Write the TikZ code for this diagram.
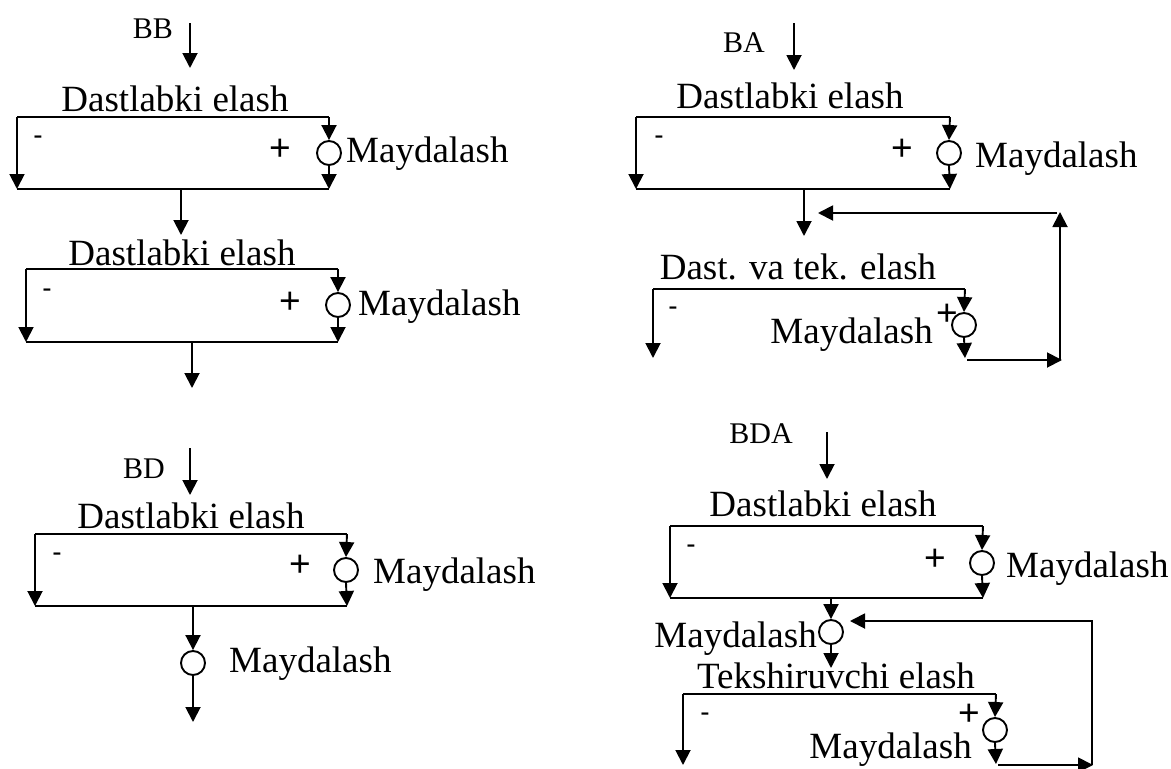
\documentclass[tikz,border=0pt]{standalone}
\usepackage{fontspec}
\setmainfont{Liberation Serif}
\newfontfamily\arialf{Liberation Sans}
\usetikzlibrary{arrows.meta}
\begin{document}
\begin{tikzpicture}[x=1pt,y=-1pt,
 ln/.style={line width=1.9pt},
 arr/.style={line width=1.9pt,-{Triangle[width=15pt,length=15pt]}},
 crush/.style={circle,draw,line width=1.9pt,minimum size=24pt,inner sep=0pt},
 txt/.style={font=\fontsize{37}{40}\selectfont,inner sep=0pt},
 tag/.style={font=\fontsize{30}{32}\selectfont,inner sep=0pt},
 plus/.style={font=\arialf\fontsize{37}{40}\selectfont,inner sep=0pt,anchor=base},
 minus/.style={font=\arialf\fontsize{28}{30}\selectfont,inner sep=0pt,anchor=base}]
\useasboundingbox (0,0) rectangle (1171,769);

% ---------- BB ----------
\node[tag,anchor=base east] (bbT) at (173,38) {BB};
\coordinate (bbS) at (190,23); \coordinate (bbE) at (190,68);
\draw[arr] (bbS) -- (bbE);
\node[txt,anchor=base] (t1) at (175,111) {Dastlabki elash};
\coordinate (a1) at (17,117); \coordinate (b1) at (329,117);
\coordinate (c1) at (17,189); \coordinate (e1) at (329,189);
\node[crush] (m1) at (329,153) {};
\draw[ln] (a1) -- (b1);
\draw[ln] (c1) -- (e1);
\draw[arr] (a1) -- (c1);
\draw[arr] (b1) -- (m1.north);
\draw[arr] (m1.south) -- (e1);
\node[minus] (n1) at (38,144) {-};
\node[plus] (p1) at (280,160) {+};
\node[txt,anchor=base west] (l1) at (346,162) {Maydalash};
\coordinate (f1) at (181,189); \coordinate (g1) at (181,235);
\draw[arr] (f1) -- (g1);

\node[txt,anchor=base] (t2) at (182,265) {Dastlabki elash};
\coordinate (a2) at (26,269); \coordinate (b2) at (338,269);
\coordinate (c2) at (26,342); \coordinate (e2) at (338,342);
\node[crush] (m2) at (338,305) {};
\draw[ln] (a2) -- (b2);
\draw[ln] (c2) -- (e2);
\draw[arr] (a2) -- (c2);
\draw[arr] (b2) -- (m2.north);
\draw[arr] (m2.south) -- (e2);
\node[minus] (n2) at (47,297) {-};
\node[plus] (p2) at (290,313) {+};
\node[txt,anchor=base west] (l2) at (358,315) {Maydalash};
\coordinate (f2) at (192,342); \coordinate (g2) at (192,388);
\draw[arr] (f2) -- (g2);

% ---------- BA ----------
\node[tag,anchor=base east] (baT) at (765,52) {BA};
\coordinate (baS) at (794,23); \coordinate (baE) at (794,70);
\draw[arr] (baS) -- (baE);
\node[txt,anchor=base] (t3) at (790,108) {Dastlabki elash};
\coordinate (a3) at (636,117); \coordinate (b3) at (950,117);
\coordinate (c3) at (636,189); \coordinate (e3) at (950,189);
\node[crush] (m3) at (949,153) {};
\draw[ln] (a3) -- (b3);
\draw[ln] (c3) -- (e3);
\draw[arr] (a3) -- (c3);
\draw[arr] (b3) -- (m3.north);
\draw[arr] (m3.south) -- (e3);
\node[minus] (n3) at (659,144) {-};
\node[plus] (p3) at (902,160) {+};
\node[txt,anchor=base west] (l3) at (975,167) {Maydalash};
\coordinate (f3) at (804,189); \coordinate (g3) at (804,236);
\draw[arr] (f3) -- (g3);

\node[txt,anchor=base] (t4) at (798,279) {Dast. va tek. elash};
\coordinate (a4) at (653,289); \coordinate (b4) at (965,289);
\coordinate (c4) at (653,358); \coordinate (e4) at (965,358);
\node[crush] (m4) at (964,325) {};
\draw[ln] (a4) -- (b4);
\draw[arr] (a4) -- (c4);
\draw[arr] (b4) -- (m4.north);
\draw[arr] (m4.south) -- (e4);
\node[minus] (n4) at (673,315) {-};
\node[plus] (p4) at (947,325) {+};
\node[txt,anchor=base east] (l4) at (933,343) {Maydalash};
\coordinate (r1) at (967,360); \coordinate (r2) at (1062,360);
\coordinate (r3) at (1060,360); \coordinate (r4) at (1060,212);
\coordinate (r5) at (1057,213); \coordinate (r6) at (818,213);
\draw[arr] (r1) -- (r2);
\draw[arr] (r3) -- (r4);
\draw[arr] (r5) -- (r6);

% ---------- BD ----------
\node[tag,anchor=base east] (bdT) at (165,478) {BD};
\coordinate (bdS) at (190,448); \coordinate (bdE) at (190,495);
\draw[arr] (bdS) -- (bdE);
\node[txt,anchor=base] (t5) at (191,528) {Dastlabki elash};
\coordinate (a5) at (35,534); \coordinate (b5) at (347,534);
\coordinate (c5) at (35,606); \coordinate (e5) at (347,606);
\node[crush] (m5) at (346,570) {};
\draw[ln] (a5) -- (b5);
\draw[ln] (c5) -- (e5);
\draw[arr] (a5) -- (c5);
\draw[arr] (b5) -- (m5.north);
\draw[arr] (m5.south) -- (e5);
\node[minus] (n5) at (57,561) {-};
\node[plus] (p5) at (300,576) {+};
\node[txt,anchor=base west] (l5) at (373,583) {Maydalash};
\coordinate (f5) at (193,606);
\node[crush] (m6) at (193,663) {};
\coordinate (g6) at (193,722);
\draw[arr] (f5) -- (m6.north);
\draw[arr] (m6.south) -- (g6);
\node[txt,anchor=base west] (l6) at (229,672) {Maydalash};

% ---------- BDA ----------
\node[tag,anchor=base east] (bdaT) at (793,443) {BDA};
\coordinate (bdaS) at (827,432); \coordinate (bdaE) at (827,479);
\draw[arr] (bdaS) -- (bdaE);
\node[txt,anchor=base] (t7) at (823,516) {Dastlabki elash};
\coordinate (a7) at (670,526); \coordinate (b7) at (983,526);
\coordinate (c7) at (670,598); \coordinate (e7) at (983,598);
\node[crush] (m7) at (982,563) {};
\draw[ln] (a7) -- (b7);
\draw[ln] (c7) -- (e7);
\draw[arr] (a7) -- (c7);
\draw[arr] (b7) -- (m7.north);
\draw[arr] (m7.south) -- (e7);
\node[minus] (n7) at (691,553) {-};
\node[plus] (p7) at (935,570) {+};
\node[txt,anchor=base west] (l7) at (1006,577) {Maydalash};
\coordinate (f7) at (831,598);
\node[crush] (m8) at (831,632) {};
\coordinate (g8) at (831,668);
\draw[arr] (f7) -- (m8.north);
\draw[arr] (m8.south) -- (g8);
\node[txt,anchor=base east] (l8) at (817,647) {Maydalash};

\node[txt,anchor=base] (t9) at (836,688) {Tekshiruvchi elash};
\coordinate (a9) at (683,694); \coordinate (b9) at (996,694);
\coordinate (c9) at (683,765); \coordinate (e9) at (996,764);
\node[crush] (m9) at (995,730) {};
\draw[ln] (a9) -- (b9);
\draw[arr] (a9) -- (c9);
\draw[arr] (b9) -- (m9.north);
\draw[arr] (m9.south) -- (e9);
\node[minus] (n9) at (705,721) {-};
\node[plus] (p9) at (969,725) {+};
\node[txt,anchor=base east] (l9) at (972,758) {Maydalash};
\coordinate (s1) at (998,765); \coordinate (s2) at (1093,765);
\coordinate (s3) at (1092,765); \coordinate (s4) at (1092,621);
\coordinate (s5) at (850,621);
\draw[arr] (s1) -- (s2);
\draw[arr] (s3) -- (s4) -- (s5);
\end{tikzpicture}
\end{document}
